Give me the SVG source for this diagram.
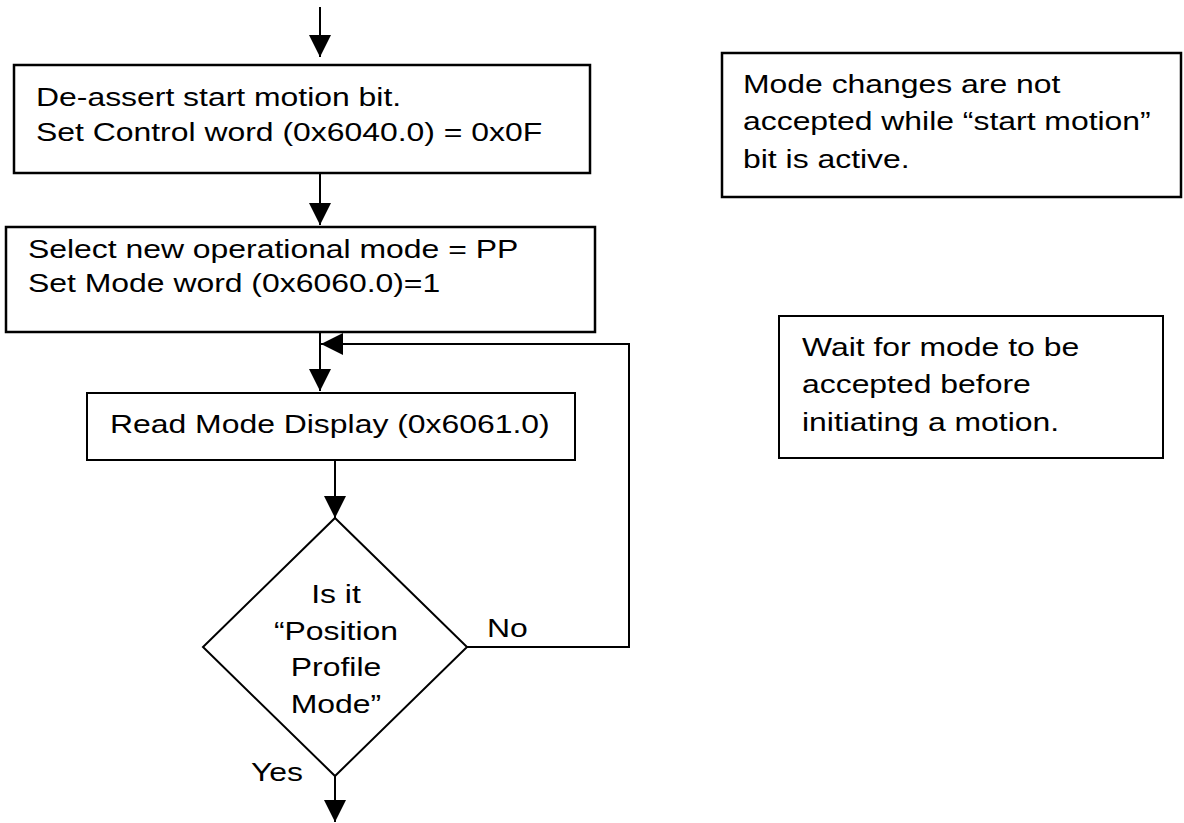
<svg xmlns="http://www.w3.org/2000/svg" width="1184" height="823" viewBox="0 0 1184 823">
<style>
.box{fill:#fff;stroke:#000;stroke-width:2.5}
.thin{fill:#fff;stroke:#000;stroke-width:2}
.line{fill:none;stroke:#000;stroke-width:2}
.t{font-family:"Liberation Sans",Arial,sans-serif;font-size:26px;fill:#000}
.c{text-anchor:middle}
</style>
<defs>
<marker id="ah" viewBox="0 0 22 22" refX="22" refY="11" markerWidth="22" markerHeight="22" markerUnits="userSpaceOnUse" orient="auto">
<path d="M0,0 L22,11 L0,22 z" fill="#000"/>
</marker>
</defs>
<g id="connectors">
<line class="line" x1="320" y1="7" x2="320" y2="57" marker-end="url(#ah)"/>
<line class="line" x1="320" y1="173" x2="320" y2="225" marker-end="url(#ah)"/>
<line class="line" x1="320" y1="332" x2="320" y2="391" marker-end="url(#ah)"/>
<line class="line" x1="335" y1="460" x2="335" y2="518" marker-end="url(#ah)"/>
<polyline class="line" points="467,647 629,647 629,344 321,344" marker-end="url(#ah)"/>
<line class="line" x1="335" y1="776" x2="335" y2="822" marker-end="url(#ah)"/>
<text class="t" transform="translate(487,637) scale(1.227,1)">No</text>
<text class="t" transform="translate(251,781) scale(1.227,1)">Yes</text>
</g>
<g id="box1">
<rect class="box" x="14" y="65" width="576" height="108"/>
<text class="t" transform="translate(36,106) scale(1.227,1)"><tspan x="0" y="0">De-assert start motion bit.</tspan><tspan x="0" y="35">Set Control word (0x6040.0) = 0x0F</tspan></text>
</g>
<g id="box2">
<rect class="box" x="6" y="227" width="589" height="105"/>
<text class="t" transform="translate(28,258) scale(1.227,1)"><tspan x="0" y="0">Select new operational mode = PP</tspan><tspan x="0" y="34">Set Mode word (0x6060.0)=1</tspan></text>
</g>
<g id="box3">
<rect class="thin" x="87" y="393" width="488" height="67"/>
<text class="t" transform="translate(110,433) scale(1.227,1)">Read Mode Display (0x6061.0)</text>
</g>
<g id="decision">
<polygon class="thin" points="335,518 467,647 335,776 203,647"/>
<text class="t c" transform="translate(336,603) scale(1.227,1)"><tspan x="0" y="0">Is it</tspan><tspan x="0" y="36.7">“Position</tspan><tspan x="0" y="73.4">Profile</tspan><tspan x="0" y="110">Mode”</tspan></text>
</g>
<g id="note1">
<rect class="box" x="722" y="53" width="459" height="144"/>
<text class="t" transform="translate(743,93) scale(1.227,1)"><tspan x="0" y="0">Mode changes are not</tspan><tspan x="0" y="37.5">accepted while “start motion”</tspan><tspan x="0" y="75">bit is active.</tspan></text>
</g>
<g id="note2">
<rect class="thin" x="779" y="316" width="384" height="142"/>
<text class="t" transform="translate(802,356) scale(1.227,1)"><tspan x="0" y="0">Wait for mode to be</tspan><tspan x="0" y="37.5">accepted before</tspan><tspan x="0" y="75">initiating a motion.</tspan></text>
</g>
</svg>
